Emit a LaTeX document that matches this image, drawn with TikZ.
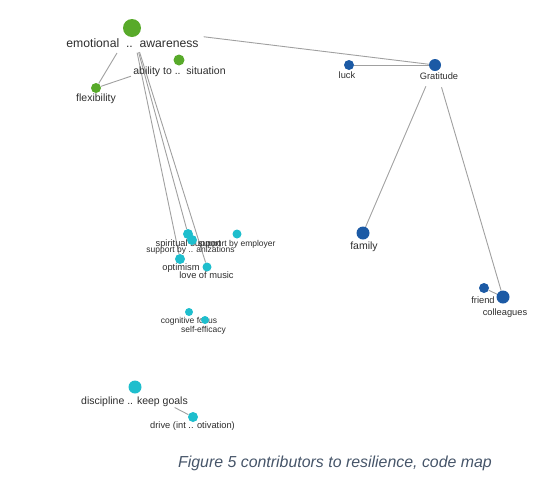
\documentclass[tikz,border=0pt]{standalone}
\usepackage{fontspec}
\setmainfont{Liberation Sans}
\usetikzlibrary{backgrounds}
\definecolor{nvgreen}{RGB}{88,170,42}
\definecolor{nvblue}{RGB}{28,90,165}
\definecolor{nvcyan}{RGB}{30,190,205}
\definecolor{nvedge}{RGB}{160,160,160}
\definecolor{nvtext}{RGB}{45,45,45}
\definecolor{captxt}{RGB}{70,85,105}
\newcommand{\codedot}[4]{\node[circle,fill=#4,inner sep=0pt,minimum size=#3pt] (#1) at (#2) {};}

\begin{document}
\begin{tikzpicture}[x=1pt,y=-1pt,
  lblA/.style={anchor=base,inner sep=0pt,text=nvtext,font=\fontsize{12.2}{14}\selectfont},
  lblB/.style={anchor=base,inner sep=0pt,text=nvtext,font=\fontsize{10.5}{12}\selectfont},
  lblC/.style={anchor=base,inner sep=0pt,text=nvtext,font=\fontsize{9.3}{11}\selectfont},
  lblD/.style={anchor=base,inner sep=0pt,text=nvtext,font=\fontsize{8.5}{10}\selectfont},
  link/.style={nvedge,line width=0.9pt}]
\useasboundingbox (0,0) rectangle (560,483);
% labels
\node[lblA] (emoL) at (132.5,47) {emotional\ \ ..\ \ awareness};
\node[lblB] (ablL) at (179.5,74) {ability to ..\ \ situation};
\node[lblB] (flxL) at (96,101) {flexibility};
\node[lblC] (lckL) at (347,78) {luck};
\node[lblC] (grtL) at (439,79) {Gratitude};
\node[lblB] (famL) at (364,249) {family};
\node[lblC] (frnL) at (483,303) {friend};
\node[lblC] (colL) at (505,315) {colleagues};
\node[lblC] (sprL) at (188.5,246) {spiritual support};
\node[lblD] (empL) at (237,246) {support by employer};
\node[lblD] (orgL) at (190.5,252) {support by .. anizations};
\node[lblC] (optL) at (181,270) {optimism};
\node[lblC] (musL) at (206.5,278) {love of music};
\node[lblD] (cogL) at (189,323) {cognitive focus};
\node[lblD] (sefL) at (203.5,332) {self-efficacy};
\node[lblB] (dscL) at (134.5,404) {discipline .. keep goals};
\node[lblC] (drvL) at (192.5,428) {drive (int .. otivation)};
% dots
\codedot{emo}{132,28}{18}{nvgreen}
\codedot{abl}{179,60}{11}{nvgreen}
\codedot{flx}{96,88}{10}{nvgreen}
\codedot{lck}{349,65}{10}{nvblue}
\codedot{grt}{435,65}{12}{nvblue}
\codedot{fam}{363,233}{13}{nvblue}
\codedot{frn}{484,288}{10}{nvblue}
\codedot{col}{503,297}{13}{nvblue}
\codedot{spr}{188,234}{10}{nvcyan}
\codedot{org}{192,240}{10}{nvcyan}
\codedot{emp}{237,234}{9}{nvcyan}
\codedot{opt}{180,259}{10}{nvcyan}
\codedot{mus}{207,267}{9}{nvcyan}
\codedot{cog}{189,312}{8}{nvcyan}
\codedot{sef}{205,320}{8}{nvcyan}
\codedot{dsc}{135,387}{13}{nvcyan}
\codedot{drv}{193,417}{10}{nvcyan}
% links
\begin{scope}[on background layer]
\draw[link,shorten <=63pt] (emo) -- (grt);
\draw[link,shorten <=20pt] (emo) -- (flx);
\draw[link,shorten >=45pt] (flx) -- (abl);
\draw[link,shorten <=16pt] (emo) -- (opt);
\draw[link,shorten <=16pt] (emo) -- (spr);
\draw[link,shorten <=16pt] (emo) -- (mus);
\draw[link] (lck) -- (grt);
\draw[link,shorten <=17pt] (grt) -- (fam);
\draw[link,shorten <=17pt] (grt) -- (col);
\draw[link] (frn) -- (col);
\draw[link,shorten <=38pt] (dsc) -- (drv);
\end{scope}
\node[anchor=base,text=captxt,font=\itshape\fontsize{15.9}{18}\selectfont] (cap) at (335,467) {Figure 5 contributors to resilience, code map};
\end{tikzpicture}
\end{document}
